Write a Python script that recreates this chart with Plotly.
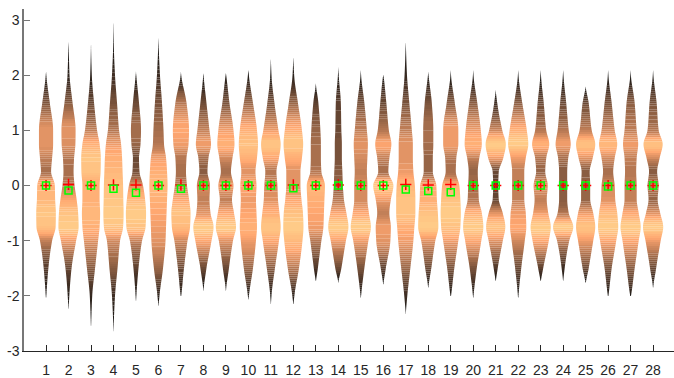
import numpy as np
import plotly.graph_objects as go

# Groups along the x axis
categories = list(range(1, 29))

# Visible lower / upper ends of each distribution
tip_low = [-2.1, -2.34, -2.65, -2.75, -2.16, -2.25, -2.04, -1.98, -1.98, -2.1,
           -2.22, -2.22, -1.8, -1.8, -2.07, -1.86, -2.4, -1.92, -2.04, -2.07,
           -1.8, -2.1, -1.8, -1.8, -1.83, -2.04, -2.04, -1.92]
tip_high = [2.1, 2.64, 2.67, 3.2, 2.07, 2.75, 2.07, 2.07, 2.04, 2.13,
            2.4, 2.43, 1.89, 2.19, 2.13, 2.01, 2.67, 2.07, 2.13, 2.13,
            1.77, 2.13, 2.13, 2.13, 1.83, 2.13, 2.13, 2.13]

# Relative density (1 = widest) of each group at fixed y levels
levels = [-2.5, -2.0, -1.5, -1.0, -0.75, -0.5, -0.25, 0.0, 0.25, 0.5, 0.75, 1.0, 1.5, 2.0, 2.5]
dens_m250 = [0, 0, 0.02, 0.03, 0, 0, 0, 0, 0, 0, 0, 0, 0, 0, 0, 0, 0.03, 0, 0, 0, 0, 0, 0, 0, 0, 0, 0, 0]
dens_m200 = [0.03, 0.08, 0.12, 0.15, 0.04, 0.1, 0.03, 0.02, 0.03, 0.05, 0.06, 0.1, 0, 0, 0.03, 0, 0.15, 0, 0.03, 0.03,
             0, 0.03, 0, 0, 0, 0.03, 0.04, 0]
dens_m150 = [0.23, 0.3, 0.4, 0.4, 0.25, 0.45, 0.3, 0.3, 0.3, 0.45, 0.4, 0.55, 0.2, 0.3, 0.35, 0.25, 0.45, 0.3, 0.35, 0.35,
             0.2, 0.3, 0.25, 0.15, 0.3, 0.35, 0.4, 0.3]
dens_m100 = [0.6, 0.75, 0.7, 0.65, 0.6, 0.7, 0.65, 0.8, 0.7, 0.75, 0.8, 0.9, 0.55, 0.75, 0.75, 0.7, 0.75, 0.7, 0.75, 0.8,
             0.7, 0.65, 0.8, 0.6, 0.75, 0.8, 0.8, 0.75]
dens_m075 = [0.95, 1.0, 0.85, 0.95, 0.95, 0.75, 0.9, 1.0, 1.0, 0.85, 0.97, 1.0, 0.75, 1.0, 1.0, 0.75, 0.85, 1.0, 0.95, 1.0,
             0.95, 0.8, 1.0, 1.0, 0.95, 1.0, 1.0, 1.0]
dens_m050 = [0.97, 0.95, 0.9, 1.0, 1.0, 0.8, 0.95, 0.7, 0.8, 0.8, 0.85, 0.95, 0.8, 0.8, 0.8, 0.6, 0.95, 0.95, 1.0, 0.85,
             0.7, 0.75, 0.75, 0.55, 0.75, 0.9, 0.8, 0.7]
dens_m025 = [0.9, 0.8, 0.85, 0.97, 0.9, 0.85, 0.8, 0.6, 0.6, 0.75, 0.7, 0.8, 0.85, 0.55, 0.65, 0.75, 0.95, 0.85, 0.95, 0.55,
             0.3, 0.6, 0.6, 0.4, 0.45, 0.7, 0.6, 0.45]
dens_000 = [0.87, 0.6, 0.85, 0.95, 0.7, 0.9, 0.6, 0.65, 0.75, 0.8, 0.65, 0.7, 0.9, 0.45, 0.65, 1.0, 0.9, 0.8, 0.85, 0.5,
            0.25, 0.6, 0.7, 0.4, 0.45, 0.65, 0.6, 0.55]
dens_p025 = [0.5, 0.5, 0.95, 0.9, 0.35, 0.85, 0.5, 0.4, 0.5, 0.7, 0.55, 0.7, 0.55, 0.4, 0.6, 0.5, 0.75, 0.45, 0.5, 0.45,
             0.3, 0.6, 0.45, 0.4, 0.4, 0.5, 0.55, 0.4]
dens_p050 = [0.6, 0.55, 0.97, 0.85, 0.3, 0.75, 0.55, 0.5, 0.65, 0.85, 0.8, 0.85, 0.5, 0.35, 0.65, 0.6, 0.7, 0.45, 0.55, 0.6,
             0.75, 0.75, 0.55, 0.5, 0.7, 0.65, 0.6, 0.65]
dens_p075 = [0.7, 0.68, 0.85, 0.75, 0.45, 0.55, 0.75, 0.75, 0.85, 0.95, 0.97, 0.97, 0.5, 0.35, 0.7, 0.8, 0.7, 0.5, 0.75, 0.85,
             1.0, 1.0, 0.85, 0.75, 0.95, 0.9, 0.75, 0.95]
dens_p100 = [0.7, 0.7, 0.6, 0.55, 0.5, 0.5, 0.8, 0.6, 0.75, 0.85, 0.75, 0.85, 0.45, 0.3, 0.6, 0.55, 0.6, 0.5, 0.75, 0.75,
             0.65, 0.85, 0.55, 0.55, 0.6, 0.65, 0.6, 0.55]
dens_p150 = [0.37, 0.4, 0.3, 0.35, 0.3, 0.35, 0.55, 0.3, 0.35, 0.45, 0.35, 0.45, 0.25, 0.25, 0.35, 0.3, 0.35, 0.35, 0.4, 0.4,
             0.15, 0.4, 0.3, 0.3, 0.3, 0.35, 0.4, 0.35]
dens_p200 = [0.03, 0.1, 0.08, 0.15, 0.03, 0.15, 0.03, 0.02, 0.03, 0.05, 0.06, 0.08, 0, 0.04, 0.03, 0.01, 0.12, 0.03, 0.03, 0.03,
             0, 0.03, 0.03, 0.03, 0, 0.03, 0.03, 0.03]
dens_p250 = [0, 0.02, 0.01, 0.04, 0, 0.03, 0, 0, 0, 0, 0.01, 0.01, 0, 0, 0, 0, 0.02, 0, 0, 0, 0, 0, 0, 0, 0, 0, 0, 0]

density_rows = [dens_m250, dens_m200, dens_m150, dens_m100, dens_m075, dens_m050, dens_m025, dens_000,
                dens_p025, dens_p050, dens_p075, dens_p100, dens_p150, dens_p200, dens_p250]

# Mean (+) and median (square) of each group
means = [0.0, 0.02, 0.0, 0.01, 0.01, 0.0, 0.01, 0.0, 0.0, 0.0, 0.0, 0.01, 0.0, 0.01,
         0.0, 0.0, 0.02, 0.01, 0.02, 0.0, 0.0, 0.0, 0.0, 0.0, 0.0, 0.0, 0.0, 0.0]
medians = [0.0, -0.09, 0.0, -0.06, -0.13, 0.0, -0.06, 0.0, 0.0, 0.0, 0.0, -0.05, 0.0, 0.0,
           0.0, 0.0, -0.07, -0.1, -0.12, 0.0, 0.0, 0.0, 0.0, 0.0, 0.0, -0.02, 0.0, 0.0]

HALF_WIDTH = 0.45   # half width of a violin at relative density 1
BAND = 0.036        # height of one colour band
N_COLORS = 48


def pchip(xk, yk, xq):
    """Shape-preserving cubic interpolation (Fritsch-Carlson), flat at both ends."""
    xk = np.asarray(xk, float)
    yk = np.asarray(yk, float)
    h = np.diff(xk)
    delta = np.diff(yk) / h
    d = np.zeros_like(yk)
    for i in range(1, len(xk) - 1):
        if delta[i - 1] * delta[i] > 0:
            w1 = 2 * h[i] + h[i - 1]
            w2 = h[i] + 2 * h[i - 1]
            d[i] = (w1 + w2) / (w1 / delta[i - 1] + w2 / delta[i])
    idx = np.clip(np.searchsorted(xk, xq) - 1, 0, len(xk) - 2)
    t = (xq - xk[idx]) / h[idx]
    h00 = 2 * t ** 3 - 3 * t ** 2 + 1
    h10 = t ** 3 - 2 * t ** 2 + t
    h01 = -2 * t ** 3 + 3 * t ** 2
    h11 = t ** 3 - t ** 2
    return h00 * yk[idx] + h10 * h[idx] * d[idx] + h01 * yk[idx + 1] + h11 * h[idx] * d[idx + 1]


def copper(c):
    r = min(1.0, 1.25 * c)
    g = 0.7812 * c
    b = 0.4975 * c
    mix = 0.07  # slight wash toward white
    r, g, b = [(1 - mix) * v + mix for v in (r, g, b)]
    return "rgb(%d,%d,%d)" % (round(255 * r), round(255 * g), round(255 * b))


lev = np.array(levels)
bucket_x = [[] for _ in range(N_COLORS)]
bucket_y = [[] for _ in range(N_COLORS)]

for i, k in enumerate(categories):
    vals = np.array([row[i] for row in density_rows])
    lo, hi = tip_low[i], tip_high[i]
    inside = (lev > lo) & (lev < hi)
    xk = np.concatenate([[lo], lev[inside], [hi]])
    yk = np.concatenate([[0.0], vals[inside], [0.0]])
    n = int(np.ceil((hi - lo) / BAND)) + 1
    ys = np.linspace(lo, hi, n)
    ws = np.clip(pchip(xk, yk, ys), 0, 1)
    for b in range(n - 1):
        y0, y1 = ys[b], ys[b + 1]
        w0, w1 = ws[b] * HALF_WIDTH, ws[b + 1] * HALF_WIDTH
        c = 0.5 * (ws[b] + ws[b + 1])
        q = int(round(c * (N_COLORS - 1)))
        bucket_x[q] += [k - w0, k + w0, k + w1, k - w1, k - w0, None]
        bucket_y[q] += [y0, y0, y1, y1, y0, None]

fig = go.Figure()
for q in range(N_COLORS):
    if not bucket_x[q]:
        continue
    fig.add_trace(go.Scatter(
        x=bucket_x[q], y=bucket_y[q], mode="lines", line=dict(width=0),
        fill="toself", fillcolor=copper(q / (N_COLORS - 1)),
        hoverinfo="skip", showlegend=False))

fig.add_trace(go.Scatter(
    x=categories, y=means, mode="markers", showlegend=False,
    marker=dict(symbol="cross-thin", size=8, color="#ff0000",
                line=dict(width=1.5, color="#ff0000"))))
fig.add_trace(go.Scatter(
    x=categories, y=medians, mode="markers", showlegend=False,
    marker=dict(symbol="square-open", size=7, color="#00ff00",
                line=dict(width=1.5, color="#00ff00"))))

font = dict(family="Liberation Sans, Arial, sans-serif", size=14, color="#262626")
fig.update_layout(
    width=674, height=378,
    margin=dict(l=24, r=0, t=9, b=25),
    paper_bgcolor="white", plot_bgcolor="white",
    font=font,
    xaxis=dict(range=[0.02, 28.93], tickmode="array", tickvals=categories,
               ticktext=[str(c) for c in categories],
               ticks="inside", ticklen=6, tickwidth=1, tickcolor="#262626",
               showline=True, linecolor="#262626", linewidth=1,
               showgrid=False, zeroline=False, tickfont=font, ticklabelstandoff=6),
    yaxis=dict(range=[-3, 3.2], tickmode="array", tickvals=[-3, -2, -1, 0, 1, 2, 3],
               ticktext=["-3", "-2", "-1", "0", "1", "2", "3"],
               ticks="inside", ticklen=6, tickwidth=1, tickcolor="#777777",
               showline=True, linecolor="#777777", linewidth=1.5,
               showgrid=False, zeroline=False, tickfont=font),
)

fig.write_html("out.html")
